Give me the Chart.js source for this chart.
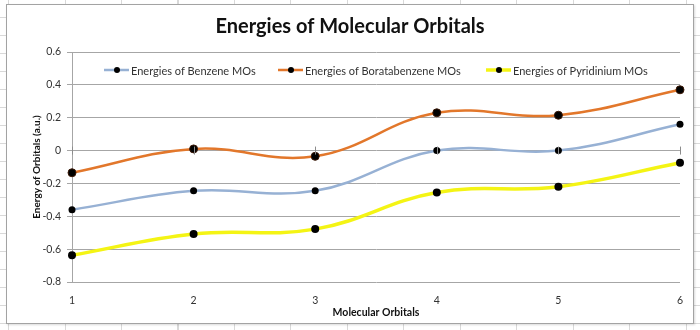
<!DOCTYPE html>
<html>
<head>
<meta charset="utf-8">
<script src="https://cdn.jsdelivr.net/npm/chart.js@4"></script>
<style>
  html, body { margin: 0; padding: 0; }
  body {
    width: 700px; height: 330px; position: relative; overflow: hidden;
    background-color: #fff;
    background-image:
      repeating-linear-gradient(to right, transparent 0, transparent 8px, #d9d9d9 8px, #d9d9d9 9px, transparent 9px, transparent 56.5px),
      repeating-linear-gradient(to bottom, transparent 0, transparent 17px, #d9d9d9 17px, #d9d9d9 18px);
  }
  #frame {
    position: absolute; left: 6px; top: 4px; width: 686px; height: 318px;
    background: #fff; border: 1px solid #a3a3a3;
    box-shadow: 1px 1px 2px rgba(0,0,0,0.15);
  }
  #wrap { position: absolute; left: 0; top: 0; width: 700px; height: 330px; }
</style>
</head>
<body>
<div id="frame"></div>
<div id="wrap"><canvas id="chart" width="700" height="330"></canvas></div>
<script>
// Values
const orbitals = ["1", "2", "3", "4", "5", "6"];
const benzene = [-0.36, -0.245, -0.245, 0.0, 0.0, 0.16];
const boratabenzene = [-0.135, 0.01, -0.035, 0.23, 0.215, 0.37];
const pyridinium = [-0.637, -0.508, -0.478, -0.255, -0.22, -0.074];
const seriesNames = [
  "Energies of Benzene MOs",
  "Energies of Boratabenzene MOs",
  "Energies of Pyridinium MOs",
];

const FONT = "Lato, 'Noto Sans', sans-serif";

// title, legend inside the plot and the small ticks on the zero line
const extras = {
  id: "extras",
  afterDraw(chart) {
    const ctx = chart.ctx;
    const x = chart.scales.x;
    const y = chart.scales.y;

    ctx.save();
    ctx.fillStyle = "#111";
    ctx.font = "bold 20px " + FONT;
    ctx.textAlign = "center";
    ctx.textBaseline = "middle";
    ctx.fillText("Energies of Molecular Orbitals", 350, 27);

    // ticks on the category axis crossing at 0
    const y0 = y.getPixelForValue(0);
    ctx.strokeStyle = "#8c8c8c";
    ctx.lineWidth = 1;
    orbitals.forEach((o, i) => {
      const px = Math.round(x.getPixelForValue(i)) + 0.5;
      ctx.beginPath();
      ctx.moveTo(px, y0 - 4);
      ctx.lineTo(px, y0 + 4);
      ctx.stroke();
    });

    // legend
    const starts = [104, 278, 486];
    ctx.font = "11px " + FONT;
    ctx.textAlign = "left";
    chart.data.datasets.forEach((ds, i) => {
      const lx = starts[i];
      const ly = 70;
      ctx.strokeStyle = ds.borderColor;
      ctx.lineWidth = ds.borderWidth;
      ctx.beginPath();
      ctx.moveTo(lx, ly);
      ctx.lineTo(lx + 25, ly);
      ctx.stroke();
      ctx.fillStyle = "#000";
      ctx.beginPath();
      ctx.arc(lx + 13, ly, 3, 0, Math.PI * 2);
      ctx.fill();
      ctx.fillStyle = "#333";
      ctx.fillText(ds.label, lx + 27, ly + 1);
    });
    ctx.restore();
  },
};

const ctx = document.getElementById("chart").getContext("2d");
const chart = new Chart(ctx, {
  type: "line",
  data: {
    labels: orbitals,
    datasets: [
      {
        label: seriesNames[0],
        data: benzene,
        borderColor: "#97b1d4",
        borderWidth: 2.5,
        pointRadius: 3.5,
        pointBackgroundColor: "#000",
        pointBorderColor: "#000",
        pointBorderWidth: 0,
      },
      {
        label: seriesNames[1],
        data: boratabenzene,
        borderColor: "#e2772b",
        borderWidth: 2.5,
        pointRadius: 4,
        pointBackgroundColor: "#000",
        pointBorderColor: "#3b1806",
        pointBorderWidth: 1,
      },
      {
        label: seriesNames[2],
        data: pyridinium,
        borderColor: "#f4f414",
        borderWidth: 3.5,
        pointRadius: 4,
        pointBackgroundColor: "#000",
        pointBorderColor: "#000",
        pointBorderWidth: 0,
      },
    ],
  },
  options: {
    responsive: false,
    animation: false,
    devicePixelRatio: 1,
    elements: { line: { tension: 0.4 } },
    layout: { padding: { top: 52, right: 20, bottom: 0, left: 0 } },
    plugins: {
      legend: { display: false },
      title: { display: false },
      tooltip: { enabled: false },
    },
    scales: {
      x: {
        offset: false,
        grid: { display: false, drawTicks: false },
        border: { display: false },
        ticks: {
          padding: 12,
          color: "#333",
          font: { family: FONT, size: 10.5 },
          maxRotation: 0,
        },
        title: {
          display: true,
          text: "Molecular Orbitals",
          color: "#111",
          font: { family: FONT, size: 10.5, weight: "bold" },
          padding: { top: 0, bottom: 11 },
        },
        afterFit(scale) { scale.height = 48; },
      },
      y: {
        min: -0.8,
        max: 0.6,
        grid: { color: "#a6a6a6", lineWidth: 1, tickLength: 5 },
        border: { display: true, color: "#a6a6a6" },
        ticks: {
          stepSize: 0.2,
          padding: 6,
          color: "#333",
          font: { family: FONT, size: 10.5 },
          callback: (v) => (Math.abs(v) < 1e-9 ? "0" : Number(v.toFixed(1)).toString()),
        },
        title: {
          display: true,
          text: "Energy of Orbitals (a.u.)",
          color: "#111",
          font: { family: FONT, size: 10, weight: "bold" },
          padding: { top: 31, bottom: 0 },
        },
        afterFit(scale) { scale.width = 72; },
      },
    },
  },
  plugins: [extras],
});
</script>
</body>
</html>
